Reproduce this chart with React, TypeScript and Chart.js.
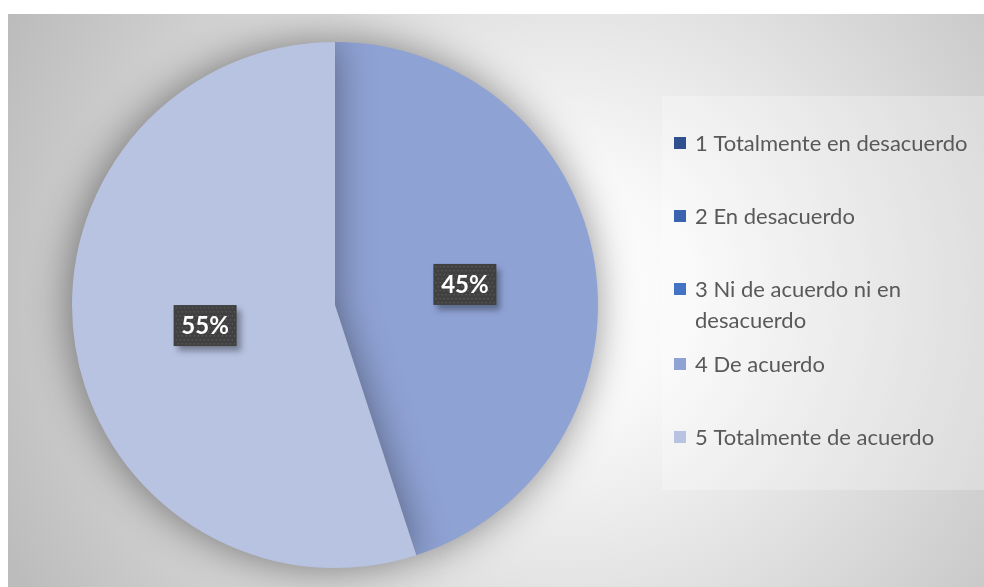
import React, { useEffect, useRef } from "react";
import { Chart, registerables } from "chart.js";

Chart.register(...registerables);

const categories = [
  "1 Totalmente en desacuerdo",
  "2 En desacuerdo",
  "3 Ni de acuerdo ni en desacuerdo",
  "4 De acuerdo",
  "5 Totalmente de acuerdo",
];
const values = [0, 0, 0, 45, 55];
const colors = ["#2F4F8F", "#3A62AE", "#4472C4", "#8FA2D4", "#B8C3E2"];

const FONT = "Lato, 'Open Sans', sans-serif";

const bgPlugin = {
  id: "bg",
  beforeDraw(chart: any) {
    const { ctx, width, height } = chart;
    ctx.save();
    const g = ctx.createRadialGradient(560, 280, 0, 560, 280, 620);
    g.addColorStop(0, "#ffffff");
    g.addColorStop(0.2, "#f8f8f8");
    g.addColorStop(1, "#bcbcbc");
    ctx.fillStyle = g;
    ctx.fillRect(0, 0, width, height);
    // legend box
    ctx.fillStyle = "rgba(255,255,255,0.25)";
    ctx.fillRect(654, 82, width - 654, 394);
    ctx.restore();
  },
  beforeDatasetsDraw(chart: any) {
    const ctx = chart.ctx;
    ctx.save();
    ctx.shadowColor = "rgba(0,0,0,0.45)";
    ctx.shadowBlur = 40;
    ctx.shadowOffsetX = -2;
    ctx.shadowOffsetY = 0;
  },
  afterDatasetsDraw(chart: any) {
    const ctx = chart.ctx;
    ctx.restore();
    const meta = chart.getDatasetMeta(0);
    const data = chart.data.datasets[0].data as number[];
    const total = data.reduce((a, b) => a + b, 0);
    meta.data.forEach((arc: any, i: number) => {
      const v = data[i];
      if (!v) return;
      const p = arc.tooltipPosition();
      const txt = Math.round((v / total) * 100) + "%";
      const w = 63, h = 41;
      const x = p.x - w / 2, y = p.y - h / 2;
      ctx.save();
      ctx.shadowColor = "rgba(0,0,0,0.35)";
      ctx.shadowBlur = 6;
      ctx.shadowOffsetX = 4;
      ctx.shadowOffsetY = 5;
      ctx.fillStyle = "#404040";
      ctx.fillRect(x, y, w, h);
      ctx.restore();
      ctx.save();
      ctx.fillStyle = "#585858";
      for (let yy = y + 2; yy < y + h - 1; yy += 4) {
        for (let xx = x + 2 + ((yy - y) % 8 === 2 ? 0 : 2); xx < x + w - 1; xx += 4) {
          ctx.fillRect(xx, yy, 1.5, 1.5);
        }
      }
      ctx.fillStyle = "#ffffff";
      ctx.font = `bold 24px ${FONT}`;
      ctx.textAlign = "center";
      ctx.textBaseline = "middle";
      ctx.fillText(txt, p.x, p.y + 1);
      ctx.restore();
    });
  },
  afterDraw(chart: any) {
    const ctx = chart.ctx;
    ctx.save();
    ctx.font = `22px ${FONT}`;
    ctx.textBaseline = "middle";
    const maxW = 285;
    const lineH = 31;
    let y = 129;
    categories.forEach((label, i) => {
      const words = label.split(" ");
      const lines: string[] = [];
      let cur = "";
      words.forEach((w) => {
        const t = cur ? cur + " " + w : w;
        if (ctx.measureText(t).width > maxW && cur) {
          lines.push(cur);
          cur = w;
        } else cur = t;
      });
      if (cur) lines.push(cur);
      ctx.fillStyle = colors[i];
      ctx.fillRect(666, y - 6, 12, 12);
      ctx.fillStyle = "#595959";
      lines.forEach((ln, k) => ctx.fillText(ln, 687, y + k * lineH + 1));
      y += lines.length > 1 ? 75 : 73;
    });
    ctx.restore();
  },
};

export default function App() {
  const ref = useRef<HTMLCanvasElement>(null);
  useEffect(() => {
    document.documentElement.style.overflow = "hidden";
    if (!ref.current) return;
    const chart = new Chart(ref.current, {
      type: "pie",
      data: {
        labels: categories,
        datasets: [
          {
            data: values,
            backgroundColor: colors,
            borderWidth: 0,
          },
        ],
      },
      options: {
        animation: false,
        responsive: false,
        layout: { padding: { left: 0, right: 322, top: 28, bottom: 19 } },
        plugins: {
          legend: { display: false },
          tooltip: { enabled: false },
        },
      },
      plugins: [bgPlugin],
    });
    return () => chart.destroy();
  }, []);
  return (
    <div style={{ position: "absolute", left: 8, top: 14, width: 976, height: 573, background: "#bcbcbc" }}>
      <canvas ref={ref} width={976} height={573} style={{ display: "block" }} />
    </div>
  );
}
